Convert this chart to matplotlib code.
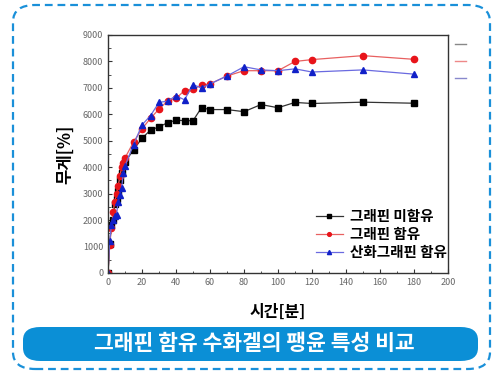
import matplotlib
matplotlib.use("Agg")
import matplotlib.pyplot as plt
from matplotlib.patches import FancyBboxPatch
from matplotlib.ticker import MultipleLocator

plt.rcParams['font.family'] = ['Noto Sans CJK KR', 'DejaVu Sans']

# Time (minutes) and swelling weight (%) for each hydrogel
t_plain = [0, 1, 2, 3, 4, 5, 6, 7, 8, 10, 15, 20, 25, 30, 35, 40, 45, 50, 55, 60,
           70, 80, 90, 100, 110, 120, 150, 180]
w_plain = [0, 1100, 1800, 2000, 2600, 2800, 3100, 3500, 3800, 4200, 4650, 5100, 5400,
           5530, 5680, 5780, 5760, 5760, 6250, 6180, 6180, 6100, 6370, 6250, 6450,
           6410, 6460, 6420]

t_graphene = [0, 1, 2, 3, 4, 5, 6, 7, 8, 9, 10, 15, 20, 25, 30, 35, 40, 45, 50, 55,
              60, 70, 80, 90, 100, 110, 120, 150, 180]
w_graphene = [0, 1050, 1700, 2300, 2700, 3000, 3300, 3650, 4000, 4150, 4350, 4950,
              5450, 5850, 6200, 6500, 6600, 6900, 6950, 7100, 7150, 7450, 7650, 7650,
              7650, 8000, 8070, 8220, 8080]

t_go = [0, 1, 2, 3, 4, 5, 6, 7, 8, 9, 10, 15, 20, 25, 30, 35, 40, 45, 50, 55, 60,
        70, 80, 90, 100, 110, 120, 150, 180]
w_go = [0, 1200, 1800, 2000, 2150, 2200, 2700, 2950, 3200, 3800, 4050, 4850, 5600,
        5950, 6450, 6500, 6700, 6550, 7120, 7000, 7150, 7450, 7800, 7680, 7650, 7720,
        7600, 7680, 7520]

labels = ['그래핀 미함유', '그래핀 함유', '산화그래핀 함유']
title = '그래핀 함유 수화겔의 팽윤 특성 비교'

W, H = 498, 374
fig = plt.figure(figsize=(W / 100, H / 100), dpi=100)
fig.patch.set_facecolor('white')

# dashed rounded frame around the whole card
frame = FancyBboxPatch((13 / W, 5 / H), (490 - 13) / W, (369 - 5) / H,
                       boxstyle="round,pad=0,rounding_size=0.045",
                       transform=fig.transFigure, fill=False,
                       edgecolor='#1a90d9', linewidth=1.6,
                       linestyle=(0, (3.5, 2.2)), zorder=0)
fig.patches.append(frame)

# title banner
banner = FancyBboxPatch((23 / W, 13 / H), (478 - 23) / W, (47 - 13) / H,
                        boxstyle="round,pad=0,rounding_size=0.035",
                        transform=fig.transFigure, facecolor='#0b8fd6',
                        edgecolor='none', zorder=1)
fig.patches.append(banner)
fig.text(254 / W, 1 - 344 / H, title, color='white', fontsize=15.5,
         fontweight='bold', ha='center', va='center')

ax = fig.add_axes([108 / W, 1 - 273 / H, (448 - 108) / W, (273 - 35) / H])
ax.plot(t_plain, w_plain, color='#333333', lw=0.9, marker='s', ms=4.2,
        mfc='black', mec='black', label=labels[0])
ax.plot(t_graphene, w_graphene, color='#e86060', lw=0.9, marker='o', ms=4.5,
        mfc='#e8141a', mec='#e8141a', label=labels[1])
ax.plot(t_go, w_go, color='#6a6ae0', lw=0.9, marker='^', ms=5,
        mfc='#1020c8', mec='#1020c8', label=labels[2])

ax.set_xlim(0, 200)
ax.set_ylim(0, 9000)
ax.xaxis.set_major_locator(MultipleLocator(20))
ax.xaxis.set_minor_locator(MultipleLocator(10))
ax.yaxis.set_major_locator(MultipleLocator(1000))
ax.yaxis.set_minor_locator(MultipleLocator(500))
ax.tick_params(which='both', direction='in', top=False, right=False,
               labelsize=6.5, labelcolor='#666666', color='#333333')
ax.tick_params(which='major', length=3)
ax.tick_params(which='minor', length=1.8)
for s in ax.spines.values():
    s.set_color('#333333')
    s.set_linewidth(1.0)

ax.set_xlabel('시간[분]', fontsize=11.5, fontweight='bold', labelpad=12)
ax.set_ylabel('무게[%]', fontsize=12, fontweight='bold', labelpad=6)

ax.legend(loc='lower right', bbox_to_anchor=(1.035, 0.0), frameon=False,
          handlelength=1.8, handletextpad=0.5, labelspacing=0.12,
          markerscale=0.6, prop={'weight': 'bold', 'size': 10.5})

# small leftover series swatches at the right margin
for y, c in [(44, '#888888'), (61, '#ee8888'), (78, '#8888cc')]:
    fig.add_artist(plt.Line2D([455 / W, 466 / W], [1 - y / H, 1 - y / H],
                              color=c, lw=1.0, transform=fig.transFigure))

fig.savefig('out.png', dpi=100, facecolor='white')
